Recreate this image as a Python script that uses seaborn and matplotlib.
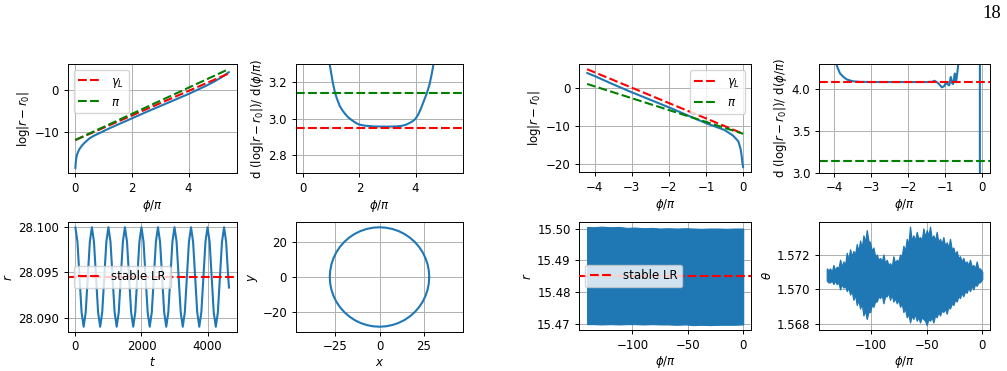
import numpy as np
import matplotlib
matplotlib.use("Agg")
import matplotlib.pyplot as plt
import seaborn as sns
from matplotlib.ticker import FormatStrFormatter

# --- data ---
# top row, left figure: log|r - r0| and its slope vs phi/pi
phi_a = [0, 0.01, 0.03, 0.06, 0.1, 0.15, 0.25, 0.35, 0.5, 0.65, 0.85, 1.0, 1.25,
         1.5, 2.0, 2.5, 3.0, 3.5, 4.0, 4.3, 4.6, 4.9, 5.2, 5.43]
logr_a = [-18.8, -17.6, -16.4, -15.5, -14.8, -14.1, -13.2, -12.5, -11.6, -11.0, -10.35,
          -9.85, -9.05, -8.3, -6.8, -5.3, -3.85, -2.4, -0.95, 0.0, 0.95, 2.0, 3.2, 4.3]
fit_x_a = [0, 5.43]
gamma_fit_a = [-12.0, 4.0]
pi_fit_a = [-12.0, 5.05]

phi_b = [0.0, 0.2, 0.4, 0.6, 0.8, 0.94, 1.05, 1.13, 1.2, 1.3, 1.4, 1.5, 1.6, 1.75,
         1.9, 2.0, 2.2, 2.5, 3.0, 3.3, 3.5, 3.65, 3.8, 3.9, 4.0, 4.1, 4.2, 4.3, 4.4,
         4.5, 4.58, 4.64, 4.8, 5.1, 5.43]
slope_b = [9.0, 6.0, 4.6, 3.9, 3.48, 3.3, 3.2, 3.143, 3.11, 3.07, 3.045, 3.025, 3.008,
           2.99, 2.975, 2.968, 2.962, 2.958, 2.957, 2.958, 2.961, 2.967, 2.978, 2.987,
           3.0, 3.025, 3.06, 3.1, 3.14, 3.19, 3.25, 3.3, 3.5, 4.2, 5.2]
gamma_b = 2.948

# top row, right figure
phi_c = [-4.2, -4.0, -3.75, -3.5, -3.0, -2.5, -2.0, -1.5, -1.0, -0.75, -0.5, -0.27,
         -0.13, -0.07, -0.04, -0.02, 0.0]
logr_c = [4.1, 3.3, 2.2, 1.1, -1.0, -3.0, -5.0, -7.1, -9.2, -10.1, -11.0, -12.5,
          -14.0, -16.0, -18.0, -19.8, -20.9]
fit_x_c = [-4.2, 0]
gamma_fit_c = [5.1, -12.0]
pi_fit_c = [1.2, -12.0]

phi_d = [-4.2, -4.1, -4.0, -3.97, -3.9, -3.84, -3.75, -3.66, -3.55, -3.48, -3.3, -3.0,
         -2.5, -2.0, -1.5, -1.35, -1.29, -1.2, -1.09, -1.03, -0.98, -0.93, -0.89, -0.85,
         -0.82, -0.79, -0.76, -0.74, -0.72, -0.70, -0.67, -0.64, -0.55, -0.4, -0.25,
         -0.12, -0.07, -0.055, -0.03, 0.0]
slope_d = [6.0, 5.0, 4.45, 4.33, 4.24, 4.18, 4.14, 4.11, 4.095, 4.087, 4.081, 4.079,
           4.079, 4.079, 4.079, 4.082, 4.094, 4.07, 4.016, 4.03, 4.07, 4.05, 4.04, 4.14,
           4.07, 4.055, 4.13, 4.18, 4.09, 4.10, 4.2, 4.32, 4.7, 5.3, 6.0, 8.0, 30.0,
           -30.0, -10.0, -5.0]
gamma_d = 4.075

# bottom row, left figure: r(t) and orbit
t_e = list(np.arange(0, 4650, 62.5)) + [4650]
r_e = [28.1000, 28.0984, 28.0945, 28.0906, 28.0890, 28.0906, 28.0945, 28.0984,
       28.1000, 28.0984, 28.0945, 28.0906, 28.0890, 28.0906, 28.0945, 28.0984,
       28.1000, 28.0984, 28.0945, 28.0906, 28.0890, 28.0906, 28.0945, 28.0984,
       28.1000, 28.0984, 28.0945, 28.0906, 28.0890, 28.0906, 28.0945, 28.0984,
       28.1000, 28.0984, 28.0945, 28.0906, 28.0890, 28.0906, 28.0945, 28.0984,
       28.1000, 28.0984, 28.0945, 28.0906, 28.0890, 28.0906, 28.0945, 28.0984,
       28.1000, 28.0984, 28.0945, 28.0906, 28.0890, 28.0906, 28.0945, 28.0984,
       28.1000, 28.0984, 28.0945, 28.0906, 28.0890, 28.0906, 28.0945, 28.0984,
       28.1000, 28.0984, 28.0945, 28.0906, 28.0890, 28.0906, 28.0945, 28.0984,
       28.1000, 28.0984, 28.0945, 28.0933]
stable_lr_e = 28.0945

x_f = [28.10, 27.86, 27.14, 25.96, 24.34, 22.29, 19.87, 17.11, 14.05, 10.75, 7.27,
       3.67, 0.00, -3.67, -7.27, -10.75, -14.05, -17.11, -19.87, -22.29, -24.34,
       -25.96, -27.14, -27.86, -28.10, -27.86, -27.14, -25.96, -24.34, -22.29, -19.87,
       -17.11, -14.05, -10.75, -7.27, -3.67, 0.00, 3.67, 7.27, 10.75, 14.05, 17.11,
       19.87, 22.29, 24.34, 25.96, 27.14, 27.86, 28.10]
y_f = [0.00, 3.67, 7.27, 10.75, 14.05, 17.11, 19.87, 22.29, 24.34, 25.96, 27.14,
       27.86, 28.10, 27.86, 27.14, 25.96, 24.34, 22.29, 19.87, 17.11, 14.05, 10.75,
       7.27, 3.67, 0.00, -3.67, -7.27, -10.75, -14.05, -17.11, -19.87, -22.29, -24.34,
       -25.96, -27.14, -27.86, -28.10, -27.86, -27.14, -25.96, -24.34, -22.29, -19.87,
       -17.11, -14.05, -10.75, -7.27, -3.67, 0.00]

# bottom row, right figure: envelopes of the fast oscillation
phi_g = [-141, -135, -128, -120, -112, -105, -98, -90, -82, -75, -68, -60, -52, -45,
         -38, -30, -22, -15, -8, 0]
r_up_g = [15.5005, 15.5004, 15.5006, 15.5004, 15.5005, 15.5002, 15.5003, 15.5001,
          15.5002, 15.5000, 15.5001, 15.5000, 15.5001, 15.5000, 15.4999, 15.5000,
          15.5000, 15.4999, 15.5000, 15.5000]
r_lo_g = [15.4700, 15.4700, 15.4699, 15.4700, 15.4699, 15.4700, 15.4700, 15.4699,
          15.4700, 15.4699, 15.4699, 15.4698, 15.4699, 15.4697, 15.4698, 15.4697,
          15.4698, 15.4698, 15.4698, 15.4699]
stable_lr_g = 15.485

phi_h = [-140, -138.5, -137, -135.5, -134, -132.5, -131, -129.5, -128, -126.5, -125,
         -123.5, -122, -120.5, -119, -117.5, -116, -114.5, -113, -111.5, -110, -108.5,
         -107, -105.5, -104, -102.5, -101, -99.5, -98, -96.5, -95, -93.5, -92, -90.5,
         -89, -87.5, -86, -84.5, -83, -81.5, -80, -78.5, -77, -75.5, -74, -72.5, -71,
         -69.5, -68, -66.5, -65, -63.5, -62, -60.5, -59, -57.5, -56, -54.5, -53,
         -51.5, -50, -48.5, -47, -45.5, -44, -42.5, -41, -39.5, -38, -36.5, -35,
         -33.5, -32, -30.5, -29, -27.5, -26, -24.5, -23, -21.5, -20, -18.5, -17,
         -15.5, -14, -12.5, -11, -9.5, -8, -6.5, -5, -3.5, -2, 0]
th_up_h = [1.5712, 1.5711, 1.5712, 1.5710, 1.5714, 1.5711, 1.5713, 1.5712, 1.5717,
           1.5713, 1.5716, 1.5714, 1.5721, 1.5717, 1.5723, 1.5719, 1.5722, 1.5720,
           1.5726, 1.5722, 1.5728, 1.5724, 1.5731, 1.5727, 1.5734, 1.5728, 1.5727,
           1.5722, 1.5724, 1.5719, 1.5720, 1.5717, 1.5718, 1.5716, 1.5720, 1.5715,
           1.5717, 1.5714, 1.5715, 1.5713, 1.5719, 1.5715, 1.5717, 1.5716, 1.5720,
           1.5719, 1.5725, 1.5722, 1.5729, 1.5726, 1.5736, 1.5728, 1.5731, 1.5728,
           1.5733, 1.5729, 1.5730, 1.5728, 1.5735, 1.5730, 1.5734, 1.5731, 1.5736,
           1.5729, 1.5731, 1.5728, 1.5733, 1.5727, 1.5729, 1.5726, 1.5730, 1.5725,
           1.5727, 1.5724, 1.5729, 1.5723, 1.5724, 1.5720, 1.5722, 1.5718, 1.5719,
           1.5716, 1.5718, 1.5715, 1.5716, 1.5714, 1.5717, 1.5713, 1.5714, 1.5712,
           1.5716, 1.5712, 1.5712, 1.5710]
th_lo_h = [1.5705, 1.5704, 1.5704, 1.5705, 1.5703, 1.5705, 1.5703, 1.5704, 1.5700,
           1.5703, 1.5701, 1.5702, 1.5699, 1.5701, 1.5697, 1.5699, 1.5694, 1.5697,
           1.5691, 1.5694, 1.5689, 1.5692, 1.5685, 1.5688, 1.5683, 1.5687, 1.5687,
           1.5691, 1.5690, 1.5693, 1.5693, 1.5696, 1.5695, 1.5697, 1.5692, 1.5696,
           1.5696, 1.5698, 1.5694, 1.5697, 1.5693, 1.5695, 1.5692, 1.5694, 1.5690,
           1.5692, 1.5687, 1.5689, 1.5684, 1.5686, 1.5681, 1.5685, 1.5683, 1.5686,
           1.5682, 1.5684, 1.5681, 1.5684, 1.5683, 1.5682, 1.56795, 1.5683, 1.5682,
           1.5684, 1.5681, 1.5685, 1.5684, 1.5687, 1.5685, 1.5688, 1.5687, 1.5689,
           1.5686, 1.5690, 1.5689, 1.5692, 1.5691, 1.5694, 1.5693, 1.5696, 1.5695,
           1.5698, 1.5696, 1.5699, 1.5698, 1.5701, 1.5699, 1.5702, 1.5700, 1.5703,
           1.5702, 1.5704, 1.5704, 1.5706]

# --- style ---
sns.set_theme(style="ticks")
FS = 8.5
plt.rcParams.update({
    "font.family": ["DejaVu Sans"],
    "font.size": FS,
    "axes.labelsize": FS,
    "xtick.labelsize": FS,
    "ytick.labelsize": FS,
    "legend.fontsize": FS,
    "mathtext.fontset": "dejavusans",
    "text.color": "black",
    "axes.labelcolor": "black",
    "xtick.color": "black",
    "ytick.color": "black",
    "axes.edgecolor": "black",
    "axes.linewidth": 0.7,
    "axes.grid": True,
    "axes.labelpad": 2.0,
    "grid.color": "#b0b0b0",
    "grid.linewidth": 0.7,
    "xtick.major.size": 3.1,
    "ytick.major.size": 3.1,
    "xtick.major.width": 0.7,
    "ytick.major.width": 0.7,
    "xtick.major.pad": 3.1,
    "ytick.major.pad": 3.1,
    "legend.framealpha": 0.8,
    "legend.edgecolor": "0.8",
    "legend.fancybox": True,
})

BLUE = "#1f77b4"
LW = 1.5
DASH = (0, (4.2, 1.6))

W, H = 1007, 371
fig = plt.figure(figsize=(W / 100, H / 100), dpi=100)


def add_ax(l, t, r, b):
    return fig.add_axes([l / W, 1 - b / H, (r - l) / W, (b - t) / H])


phi_lab = r"$\phi/\pi$"
slope_lab = r"d $(\log|r-r_0|)$/ d$(\phi/\pi)$"

# (a) log|r - r0|
ax = add_ax(67.7, 64.0, 236.7, 173.3)
sns.lineplot(x=phi_a, y=logr_a, ax=ax, color=BLUE, lw=LW, estimator=None)
sns.lineplot(x=fit_x_a, y=gamma_fit_a, ax=ax, color="red", lw=LW, linestyle=DASH,
             estimator=None, label=r"$\gamma_L$")
sns.lineplot(x=fit_x_a, y=pi_fit_a, ax=ax, color="green", lw=LW, linestyle=DASH,
             estimator=None, label=r"$\pi$")
ax.legend(loc="upper left")
ax.set_xticks([0, 2, 4])
ax.set_yticks([-10, 0])
ax.set_xlabel(phi_lab)
ax.set_ylabel(r"$\log|r-r_0|$")

# (b) slope
ax = add_ax(295.7, 64.3, 463.3, 173.3)
sns.lineplot(x=phi_b, y=slope_b, ax=ax, color=BLUE, lw=LW, estimator=None)
ax.axhline(gamma_b, color="red", lw=LW, linestyle=DASH)
ax.axhline(np.pi, color="green", lw=LW, linestyle=DASH)
ax.set_ylim(2.7, 3.3)
ax.set_xticks([0, 2, 4])
ax.set_yticks([2.8, 3.0, 3.2])
ax.yaxis.set_major_formatter(FormatStrFormatter("%.1f"))
ax.set_xlabel(phi_lab)
ax.set_ylabel(slope_lab)

# (c) log|r - r0|, other orbit
ax = add_ax(579.3, 64.3, 751.0, 172.3)
sns.lineplot(x=phi_c, y=logr_c, ax=ax, color=BLUE, lw=LW, estimator=None)
sns.lineplot(x=fit_x_c, y=gamma_fit_c, ax=ax, color="red", lw=LW, linestyle=DASH,
             estimator=None, label=r"$\gamma_L$")
sns.lineplot(x=fit_x_c, y=pi_fit_c, ax=ax, color="green", lw=LW, linestyle=DASH,
             estimator=None, label=r"$\pi$")
ax.legend(loc="upper right")
ax.set_xticks([-4, -3, -2, -1, 0])
ax.set_yticks([-20, -10, 0])
ax.set_xlabel(phi_lab)
ax.set_ylabel(r"$\log|r-r_0|$")

# (d) slope, other orbit
ax = add_ax(819.0, 64.3, 990.0, 172.7)
sns.lineplot(x=phi_d, y=slope_d, ax=ax, color=BLUE, lw=LW, estimator=None)
ax.axhline(gamma_d, color="red", lw=LW, linestyle=DASH)
ax.axhline(np.pi, color="green", lw=LW, linestyle=DASH)
ax.set_ylim(3.0, 4.29)
ax.set_xticks([-4, -3, -2, -1, 0])
ax.set_yticks([3.0, 3.5, 4.0])
ax.yaxis.set_major_formatter(FormatStrFormatter("%.1f"))
ax.set_xlabel(phi_lab)
ax.set_ylabel(slope_lab)

# (e) r(t)
ax = add_ax(67.7, 222.3, 236.7, 331.7)
sns.lineplot(x=t_e, y=r_e, ax=ax, color=BLUE, lw=LW, estimator=None)
ax.axhline(stable_lr_e, color="red", lw=LW, linestyle=DASH, label="stable LR")
ax.legend(loc="center left")
ax.set_xticks([0, 2000, 4000])
ax.set_yticks([28.090, 28.095, 28.100])
ax.yaxis.set_major_formatter(FormatStrFormatter("%.3f"))
ax.set_xlabel(r"$t$")
ax.set_ylabel(r"$r$")

# (f) orbit in the plane
ax = add_ax(295.7, 222.3, 463.3, 331.7)
sns.lineplot(x=x_f, y=y_f, ax=ax, color=BLUE, lw=LW, estimator=None, sort=False)
ax.set_aspect("equal", adjustable="datalim")
ax.set_xticks([-25, 0, 25])
ax.set_yticks([-20, 0, 20])
ax.set_xlabel(r"$x$")
ax.set_ylabel(r"$y$")

# (g) r vs phi, fast oscillation band
ax = add_ax(579.3, 221.7, 751.0, 330.0)
ax.fill_between(phi_g, r_lo_g, r_up_g, color=BLUE, lw=0.8, zorder=2)
ax.axhline(stable_lr_g, color="red", lw=LW, linestyle=DASH, label="stable LR",
           zorder=3)
ax.legend(loc="center left")
ax.set_xticks([-100, -50, 0])
ax.set_yticks([15.47, 15.48, 15.49, 15.50])
ax.yaxis.set_major_formatter(FormatStrFormatter("%.2f"))
ax.set_xlabel(phi_lab)
ax.set_ylabel(r"$r$")

# (h) theta vs phi
ax = add_ax(819.0, 221.7, 990.0, 330.0)
ax.fill_between(phi_h, th_lo_h, th_up_h, color=BLUE, lw=0.9, zorder=2)
ax.set_xticks([-100, -50, 0])
ax.set_yticks([1.568, 1.570, 1.572])
ax.yaxis.set_major_formatter(FormatStrFormatter("%.3f"))
ax.set_xlabel(phi_lab)
ax.set_ylabel(r"$\theta$")

# page number from the paper
fig.text(992 / W, 1 - 13 / H, "18", ha="center", va="center",
         family=["Liberation Serif", "DejaVu Serif"], fontsize=13.5)

fig.savefig("out.png", dpi=100)
